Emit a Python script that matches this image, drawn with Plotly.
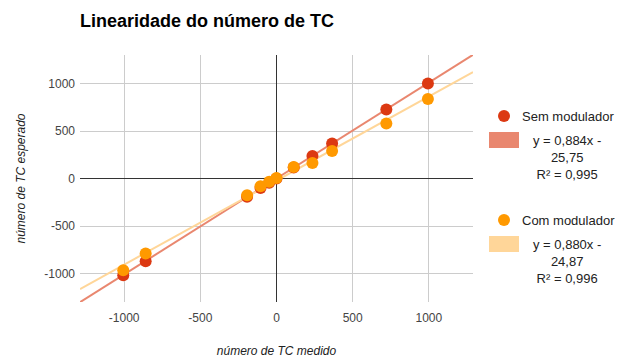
import numpy as np
import plotly.graph_objects as go

# ---- data ----
x_sem = [-1006, -859, -193, -105, -48, 0, 113, 236, 365, 721, 994]
y_sem = [-1018, -871, -193, -99, -46, 0, 116, 238, 368, 726, 1000]
x_com = [-1006, -859, -193, -105, -48, 0, 113, 236, 365, 721, 994]
y_com = [-965, -789, -176, -81, -35, 6, 122, 164, 290, 579, 838]
series_names = ["Sem modulador", "Com modulador"]
trend_labels = ["y = 0,884x -<br>25,75<br>R² = 0,995",
                "y = 0,880x -<br>24,87<br>R² = 0,996"]
x_ticks = [-1000, -500, 0, 500, 1000]
x_tick_labels = ["-1000", "-500", "0", "500", "1000"]
y_ticks = [-1000, -500, 0, 500, 1000]
y_tick_labels = ["-1000", "-500", "0", "500", "1000"]

# ---- style ----
RED = "#dc3912"
ORANGE = "#ff9900"
RED_TREND = "#e9876f"
ORANGE_TREND = "#ffd699"
X_RANGE = [-1290, 1290]
Y_RANGE = [-1300, 1300]
FONT = "Liberation Sans, Arial, sans-serif"

fig = go.Figure()

xs_line = np.array(X_RANGE, dtype=float)
for xv, yv, col in [(x_sem, y_sem, RED_TREND), (x_com, y_com, ORANGE_TREND)]:
    m, b = np.polyfit(xv, yv, 1)
    fig.add_trace(go.Scatter(x=xs_line, y=m * xs_line + b, mode="lines",
                             line=dict(color=col, width=2), showlegend=False,
                             hoverinfo="skip"))

fig.add_trace(go.Scatter(x=x_sem, y=y_sem, mode="markers", name=series_names[0],
                         marker=dict(color=RED, size=12), showlegend=False))
fig.add_trace(go.Scatter(x=x_com, y=y_com, mode="markers", name=series_names[1],
                         marker=dict(color=ORANGE, size=12), showlegend=False))

# ---- custom legend (pixel offsets from the plot's top-right corner) ----
shapes = []
annotations = []
legend_items = [
    (series_names[0], RED, RED_TREND, trend_labels[0], 0),
    (series_names[1], ORANGE, ORANGE_TREND, trend_labels[1], -104),
]
for name, mcol, tcol, tlabel, dy in legend_items:
    shapes.append(dict(type="circle", xref="paper", yref="paper",
                       xsizemode="pixel", ysizemode="pixel", xanchor=1, yanchor=1,
                       x0=25, x1=37, y0=-67 + dy, y1=-55 + dy,
                       fillcolor=mcol, line=dict(width=0)))
    shapes.append(dict(type="rect", xref="paper", yref="paper",
                       xsizemode="pixel", ysizemode="pixel", xanchor=1, yanchor=1,
                       x0=16, x1=46, y0=-93 + dy, y1=-77 + dy,
                       fillcolor=tcol, line=dict(width=0)))
    annotations.append(dict(xref="paper", yref="paper", x=1, y=1,
                            xshift=47, yshift=-61 + dy, xanchor="left", yanchor="middle",
                            text=name, showarrow=False,
                            font=dict(family=FONT, size=13, color="#222222")))
    annotations.append(dict(xref="paper", yref="paper", x=1, y=1,
                            xshift=94, yshift=-102 + dy, xanchor="center", yanchor="middle",
                            text=tlabel, showarrow=False, align="center",
                            font=dict(family=FONT, size=13, color="#222222")))

fig.update_layout(
    width=619, height=358,
    margin=dict(l=80, r=146, t=55, b=56),
    paper_bgcolor="white", plot_bgcolor="white",
    font=dict(family=FONT, size=12, color="#444444"),
    title=dict(text="<b>Linearidade do número de TC</b>", x=80 / 619, xanchor="left",
               y=1 - 21 / 358, yanchor="middle",
               font=dict(family=FONT, size=18, color="#000000")),
    shapes=shapes, annotations=annotations,
    xaxis=dict(range=X_RANGE, tickvals=x_ticks, ticktext=x_tick_labels,
               showgrid=True, gridcolor="#cccccc",
               zeroline=True, zerolinecolor="#333333", zerolinewidth=1,
               showline=False, ticks="", ticklabelstandoff=7, automargin=False,
               title=dict(text="<i>número de TC medido</i>", standoff=24,
                          font=dict(family=FONT, size=12, color="#222222"))),
    yaxis=dict(range=Y_RANGE, tickvals=y_ticks, ticktext=y_tick_labels,
               showgrid=True, gridcolor="#cccccc",
               zeroline=True, zerolinecolor="#333333", zerolinewidth=1,
               showline=False, ticks="", ticklabelstandoff=4, automargin=False,
               title=dict(text="<i>número de TC esperado</i>", standoff=16,
                          font=dict(family=FONT, size=12, color="#222222"))),
)

fig.write_html("out.html", config={"displayModeBar": False},
               post_script="document.body.style.margin='0';document.body.style.overflow='hidden';")
